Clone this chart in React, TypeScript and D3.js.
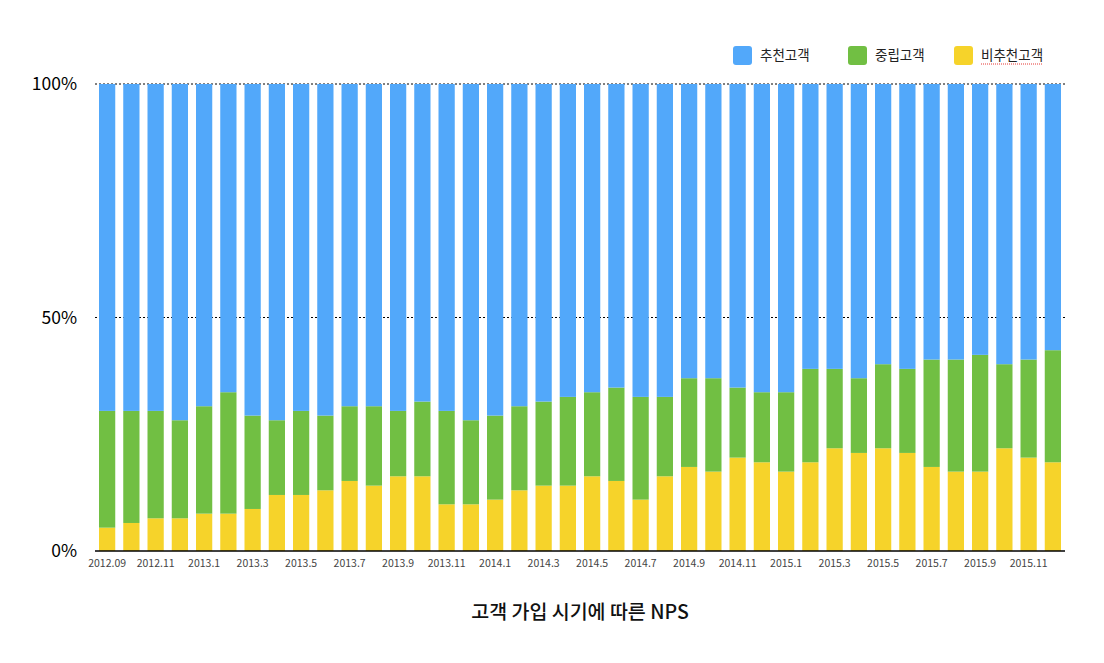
import React from "react";
import * as d3 from "d3";

const months = [
  "2012.09", "2012.10", "2012.11", "2012.12",
  "2013.1", "2013.2", "2013.3", "2013.4", "2013.5", "2013.6", "2013.7", "2013.8", "2013.9", "2013.10", "2013.11", "2013.12",
  "2014.1", "2014.2", "2014.3", "2014.4", "2014.5", "2014.6", "2014.7", "2014.8", "2014.9", "2014.10", "2014.11", "2014.12",
  "2015.1", "2015.2", "2015.3", "2015.4", "2015.5", "2015.6", "2015.7", "2015.8", "2015.9", "2015.10", "2015.11", "2015.12",
];

// 비추천 (bottom), 중립 (middle), 추천 (top), in %
const detractors = [5, 6, 7, 7, 8, 8, 9, 12, 12, 13, 15, 14, 16, 16, 10, 10, 11, 13, 14, 14, 16, 15, 11, 16, 18, 17, 20, 19, 17, 19, 22, 21, 22, 21, 18, 17, 17, 22, 20, 19];
const passives = [25, 24, 23, 21, 23, 26, 20, 16, 18, 16, 16, 17, 14, 16, 20, 18, 18, 18, 18, 19, 18, 20, 22, 17, 19, 20, 15, 15, 17, 20, 17, 16, 18, 18, 23, 24, 25, 18, 21, 24];
const promoters = [70, 70, 70, 72, 69, 66, 71, 72, 70, 71, 69, 69, 70, 68, 70, 72, 71, 69, 68, 67, 66, 65, 67, 67, 63, 63, 65, 66, 66, 61, 61, 63, 60, 61, 59, 59, 58, 60, 59, 57];

const yTicks = [0, 50, 100];

const seriesKeys = ["detractor", "passive", "promoter"];
const colors: Record<string, string> = {
  promoter: "#52a8fa",
  passive: "#71bf43",
  detractor: "#f6d32a",
};
const legendItems = [
  { key: "promoter", label: "추천고객" },
  { key: "passive", label: "중립고객" },
  { key: "detractor", label: "비추천고객" },
];

const W = 1104;
const H = 663;
const margin = { top: 84, right: 39, bottom: 112, left: 95 };
const font = "'Noto Sans CJK KR', 'Noto Sans', sans-serif";

export default function App() {
  const rows = months.map((m, i) => ({
    month: m,
    detractor: detractors[i],
    passive: passives[i],
    promoter: promoters[i],
  }));

  const x = d3
    .scaleBand()
    .domain(months)
    .range([margin.left, W - margin.right])
    .paddingInner(0.33)
    .paddingOuter(0.165);

  const y = d3
    .scaleLinear()
    .domain([0, 100])
    .range([H - margin.bottom, margin.top]);

  const stacked = d3.stack<any>().keys(seriesKeys)(rows);

  return (
    <div style={{ position: "absolute", left: 0, top: 0 }}>
      <svg width={W} height={H} style={{ display: "block", fontFamily: font }}>
        {/* dotted grid */}
        {yTicks
          .filter((t) => t > 0)
          .map((t) => (
            <line
              key={t}
              x1={margin.left}
              x2={W - margin.right}
              y1={y(t)}
              y2={y(t)}
              stroke="#000"
              strokeWidth={1}
              strokeDasharray="2,2"
            />
          ))}

        {stacked.map((s) => (
          <g key={s.key} fill={colors[s.key]}>
            {s.map((d, i) => (
              <rect
                key={i}
                x={x(months[i])!}
                y={y(d[1])}
                width={x.bandwidth()}
                height={y(d[0]) - y(d[1])}
              />
            ))}
          </g>
        ))}

        {/* baseline */}
        <line
          x1={margin.left}
          x2={W - margin.right}
          y1={y(0)}
          y2={y(0)}
          stroke="#000"
          strokeWidth={1.5}
        />

        {yTicks.map((t) => (
          <text
            key={t}
            x={77}
            y={y(t)}
            dy="0.36em"
            textAnchor="end"
            fontSize={17.5}
            fill="#000"
          >
            {t}%
          </text>
        ))}

        {months.map((m, i) =>
          i % 2 === 0 ? (
            <text
              key={m}
              x={x(m)! + x.bandwidth() / 2}
              y={567}
              textAnchor="middle"
              fontSize={10.5}
              fill="#444"
            >
              {m}
            </text>
          ) : null
        )}

        <text
          x={(margin.left + W - margin.right) / 2}
          y={619}
          textAnchor="middle"
          fontSize={19.5}
          fontWeight={500}
          fill="#111"
        >
          고객 가입 시기에 따른 NPS
        </text>

        {legendItems.map((item, i) => {
          const lx = [733, 848, 954][i];
          return (
            <g key={item.key} transform={`translate(${lx},46)`}>
              <rect width={19} height={19} rx={3} fill={colors[item.key]} />
              <text x={27} y={14} fontSize={13.5} fill="#222">
                {item.label}
              </text>
              {item.key === "detractor" && (
                <line
                  x1={27}
                  x2={89}
                  y1={18}
                  y2={18}
                  stroke="#e53935"
                  strokeWidth={1}
                  strokeDasharray="1,1"
                />
              )}
            </g>
          );
        })}
      </svg>
    </div>
  );
}
